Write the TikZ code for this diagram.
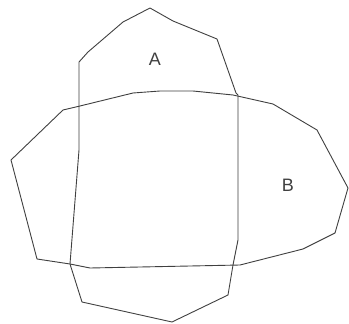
\documentclass[tikz,border=0pt]{standalone}
\usepackage{fontspec}
\setmainfont{Liberation Sans}
\begin{document}
\begin{tikzpicture}[x=1pt,y=-1pt,
  poly/.style={draw=black!75,line width=0.9pt,line join=round},
  lbl/.style={font=\fontsize{18}{18}\selectfont,text=black!75,inner sep=0pt}]
\useasboundingbox (0,0) rectangle (349,324);
\fill[white] (0,0) rectangle (349,324);
% polygon A
\draw[poly] (79,62) -- (88,52) -- (123,22) -- (150,8) -- (173,21) -- (217,39)
  -- (236,93) -- (238,95) -- (238,240) -- (233,265) -- (228,295) -- (172,322)
  -- (82,302) -- (70,264) -- (79,150) -- cycle;
% polygon B
\draw[poly] (11,160) -- (63,110) -- (80,106) -- (133,93) -- (160,91) -- (193,91)
  -- (233,95) -- (273,104) -- (317,130) -- (348,188) -- (335,233) -- (303,249)
  -- (240,265) -- (90,268) -- (70,264) -- (37,259) -- cycle;
\node[lbl] (a) at (155,59) {A};
\node[lbl] (b) at (288,185) {B};
\end{tikzpicture}
\end{document}
